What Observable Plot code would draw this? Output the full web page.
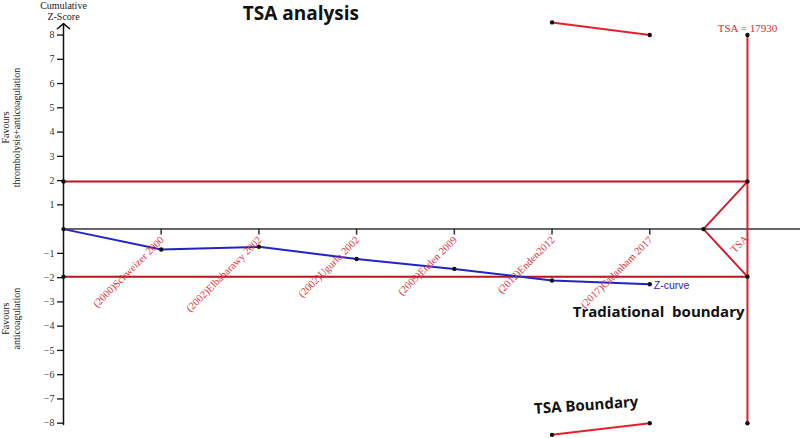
<!DOCTYPE html>
<html>
<head>
<meta charset="utf-8">
<script src="https://cdn.jsdelivr.net/npm/d3@7"></script>
<script src="https://cdn.jsdelivr.net/npm/@observablehq/plot@0.6"></script>
<style>
  html, body { margin: 0; padding: 0; background: #fff; }
  svg { overflow: visible; }
  .pre text, .pre tspan { white-space: pre; }
</style>
</head>
<body>
<div id="chart"></div>
<script>
// ---- data ----
const studyLabels = ["(2000)Schweizer 2000", "(2002)Elbaharawy 2002", "(2002)Ugurlu 2002",
                     "(2009)Enden 2009", "(2012)Enden2012", "(2017)Cadanham 2017"];
const zCurveIndex = [0, 1, 2, 3, 4, 5, 6];
const zCurveValues = [0, -0.84, -0.73, -1.23, -1.64, -2.12, -2.27];
const conventionalBoundary = [1.96, -1.96];
const tsaIndex = 7;              // position of the required information size
const tsaLabel = "TSA = 17930";
const tsaExtent = [8, -8];
const tsaApexIndex = 6.55;
const tsaBoundaryIndex = [5, 6];
const tsaUpperValues = [8.52, 8.0];
const tsaLowerValues = [-8.48, -8.0];
const yTicks = [8, 7, 6, 5, 4, 3, 2, 1, -1, -2, -3, -4, -5, -6, -7, -8];

// ---- derived tables ----
const zCurve = zCurveIndex.map((x, i) => ({x, z: zCurveValues[i]}));
const studies = studyLabels.map((label, i) => ({x: i + 1, label}));
const triangle = [
  {x: tsaIndex, z: conventionalBoundary[0]},
  {x: tsaApexIndex, z: 0},
  {x: tsaIndex, z: conventionalBoundary[1]}
];
const tsaUpper = tsaBoundaryIndex.map((x, i) => ({x, z: tsaUpperValues[i]}));
const tsaLower = tsaBoundaryIndex.map((x, i) => ({x, z: tsaLowerValues[i]}));
const blackDots = [
  ...zCurve,
  {x: 0, z: conventionalBoundary[0]}, {x: 0, z: conventionalBoundary[1]},
  {x: tsaIndex, z: tsaExtent[0]}, {x: tsaIndex, z: tsaExtent[1]},
  {x: tsaIndex, z: conventionalBoundary[0]}, {x: tsaIndex, z: conventionalBoundary[1]},
  {x: tsaApexIndex, z: 0},
  ...tsaUpper, ...tsaLower
];

const serif = "Liberation Serif, Times New Roman, serif";
const sans = "Liberation Sans, Arial, sans-serif";
const boldSans = "Open Sans, Liberation Sans, sans-serif";
const darkRed = "#b8161d";
const red = "#d9212c";
const blue = "#2424c4";

const chart = Plot.plot({
  width: 800,
  height: 438,
  marginLeft: 63,
  marginRight: 0,
  marginTop: 0,
  marginBottom: 0,
  x: {domain: [0, 7.543], axis: null},
  y: {domain: [-8.631, 9.423], axis: null},
  style: {background: "white", overflow: "visible"},
  marks: [
    // conventional boundaries
    Plot.ruleY(conventionalBoundary, {x1: 0, x2: tsaIndex, stroke: darkRed, strokeWidth: 2}),
    // x axis line
    Plot.ruleY([0], {stroke: "#333", strokeWidth: 1.5}),
    // x ticks below axis
    Plot.ruleX(studies, {x: "x", y1: 0, y2: 0, insetBottom: -6, stroke: "#333", strokeWidth: 1.5}),
    // y axis with arrow
    Plot.arrow([{x: 0, y1: tsaExtent[1] - 0.05, y2: 8.47}], {
      x1: "x", x2: "x", y1: "y1", y2: "y2", stroke: "#111", strokeWidth: 1.5,
      headLength: 8, headAngle: 100
    }),
    Plot.axisY(yTicks, {anchor: "left", tickSize: 6, tickPadding: 3, fontSize: 10,
      fontFamily: serif, fill: "#333", stroke: "#111", strokeWidth: 1.3}),
    // TSA required information size
    Plot.ruleX([tsaIndex], {y1: tsaExtent[1], y2: tsaExtent[0], stroke: red, strokeWidth: 2}),
    Plot.line(triangle, {x: "x", y: "z", stroke: "#cc2030", strokeWidth: 2}),
    // TSA boundaries
    Plot.line(tsaUpper, {x: "x", y: "z", stroke: "#e8202c", strokeWidth: 2}),
    Plot.line(tsaLower, {x: "x", y: "z", stroke: "#e8202c", strokeWidth: 2}),
    // Z-curve
    Plot.line(zCurve, {x: "x", y: "z", stroke: blue, strokeWidth: 2}),
    Plot.dot(blackDots, {x: "x", y: "z", r: 2.2, fill: "#111"}),
    // study labels
    Plot.text(studies, {x: "x", y: 0, text: "label", rotate: -45, textAnchor: "end",
      dx: 1, dy: 9, fill: "#e0323c", fontSize: 10.5, fontFamily: serif}),
    Plot.text([{x: tsaIndex, t: "TSA"}], {x: "x", y: 0, text: "t", rotate: -45, textAnchor: "end",
      dx: -1, dy: 8, fill: "#e0323c", fontSize: 10.5, fontFamily: serif}),
    Plot.text([{x: tsaIndex, z: tsaExtent[0], t: tsaLabel}], {x: "x", y: "z", text: "t", dy: -7,
      fill: "#d0303a", fontSize: 11, fontFamily: serif}),
    Plot.text([{x: zCurveIndex[6], z: zCurveValues[6], t: "Z-curve"}], {x: "x", y: "z", text: "t",
      textAnchor: "start", dx: 4, dy: 1, fill: blue, fontSize: 10.5, fontFamily: sans}),
    // axis titles
    Plot.text([{x: 0, z: 8.99, t: "Cumulative\nZ-Score"}], {x: "x", y: "z", text: "t",
      lineHeight: 1.1, fontSize: 10, fontFamily: serif, fill: "#222"}),
    Plot.text([{x: -0.537, z: 4.19, t: "Favours\nthrombolysis+anticoagulation"},
               {x: -0.537, z: -3.69, t: "Favours\nanticoagulation"}], {
      x: "x", y: "z", text: "t", rotate: -90, lineHeight: 1.1, fontSize: 10,
      fontFamily: serif, fill: "#222"}),
    // annotations
    Plot.text([{x: 2.43, z: 8.85, t: "TSA analysis"}], {x: "x", y: "z", text: "t",
      fontSize: 19, fontWeight: "bold", fontFamily: boldSans, fill: "#111"}),
    Plot.text([{x: 6.97, z: -3.42, t: "Tradiational  boundary"}], {x: "x", y: "z", text: "t",
      textAnchor: "end", fontSize: 15, fontWeight: "bold", fontFamily: boldSans, fill: "#111",
      className: "pre"}),
    Plot.text([{x: 5.35, z: -7.27, t: "TSA Boundary"}], {x: "x", y: "z", text: "t", rotate: -4,
      fontSize: 15, fontWeight: "bold", fontFamily: boldSans, fill: "#111"})
  ]
});
document.getElementById("chart").appendChild(chart);
</script>
</body>
</html>
